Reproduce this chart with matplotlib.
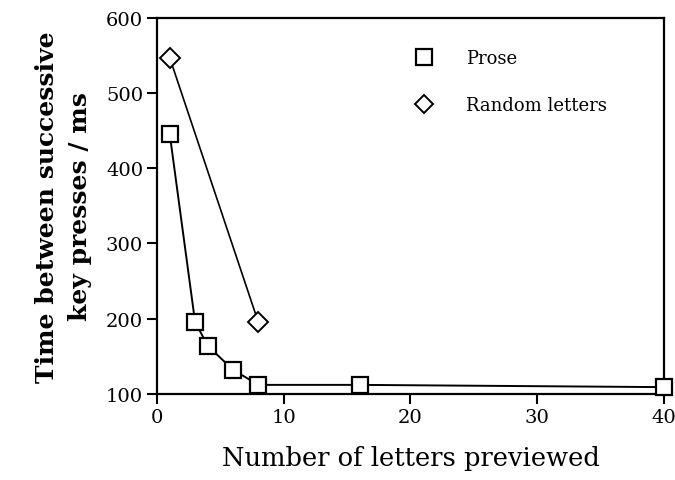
import matplotlib.pyplot as plt
from matplotlib.lines import Line2D

# letters previewed vs. mean inter-keystroke interval (ms)
prose_x = [1, 3, 4, 6, 8, 16, 40]
prose_y = [446, 196, 164, 132, 112, 112, 109]
random_x = [1, 8]
random_y = [547, 195]

plt.rcParams['font.family'] = ['DejaVu Serif']

fig = plt.figure(figsize=(6.75, 4.81), dpi=100)
ax = fig.add_axes([0.2326, 0.179, 0.751, 0.782])

ax.plot(prose_x, prose_y, color='black', lw=1.4, marker='s', ms=11.5,
        mfc='white', mec='black', mew=1.6, zorder=3, clip_on=False)
ax.plot(random_x, random_y, color='black', lw=1.2, marker='D', ms=10,
        mfc='white', mec='black', mew=1.4, zorder=3, clip_on=False)

ax.set_xlim(0, 40)
ax.set_ylim(100, 600)
ax.set_xticks([0, 10, 20, 30, 40])
ax.set_yticks([100, 200, 300, 400, 500, 600])
ax.tick_params(direction='out', length=7, width=1.5, labelsize=14, pad=3)
for s in ax.spines.values():
    s.set_linewidth(1.6)

ax.set_xlabel('Number of letters previewed', fontsize=18.5, labelpad=14)
ax.set_ylabel('Time between successive\nkey presses / ms', fontsize=18,
              fontweight='bold', labelpad=10, linespacing=1.45)

handles = [
    Line2D([], [], ls='none', marker='s', ms=11, mfc='white', mec='black', mew=1.6),
    Line2D([], [], ls='none', marker='D', ms=9, mfc='white', mec='black', mew=1.4),
]
ax.legend(handles, ['Prose', 'Random letters'], loc='upper left',
          bbox_to_anchor=(0.46, 0.96), frameon=False, fontsize=13,
          handletextpad=1.3, labelspacing=1.6)

fig.savefig('out.png', dpi=100)
